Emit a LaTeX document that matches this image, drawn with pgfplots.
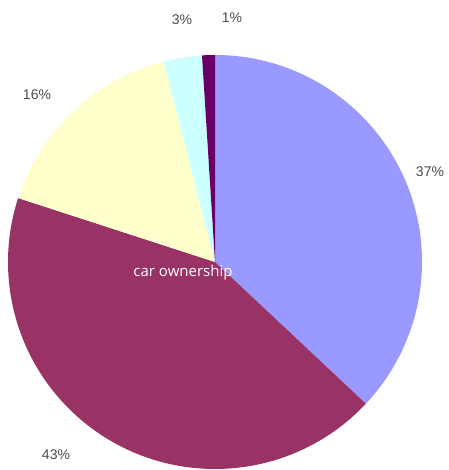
\documentclass[border=0pt]{standalone}
\usepackage{pgfplots}
\pgfplotsset{compat=1.18}
\usepackage{pgfplotstable}
\usepackage{fontspec}
\setmainfont{Liberation Sans}
\newfontfamily\labelfont{Open Sans}
\definecolor{sliceA}{HTML}{9999FF}
\definecolor{sliceB}{HTML}{993366}
\definecolor{sliceC}{HTML}{FFFFCC}
\definecolor{sliceD}{HTML}{CCFFFF}
\definecolor{sliceE}{HTML}{660066}
\definecolor{pctgray}{HTML}{4A4A4A}
\pgfplotstableread{
value color lx ly
37 sliceA 430 298
43 sliceB 56 15
16 sliceC 37 375
3 sliceD 182 450
1 sliceE 232 452
}\piedata
\begin{document}
\begin{tikzpicture}
\begin{axis}[x=1pt, y=1pt, xmin=0, xmax=448, ymin=0, ymax=470,
  hide axis, clip=false]
\pgfplotstablegetrowsof{\piedata}
\pgfmathtruncatemacro\N{\pgfplotsretval-1}
\def\cum{0}
\pgfplotsforeachungrouped \i in {0,...,\N}{%
  \pgfplotstablegetelem{\i}{value}\of\piedata \let\v\pgfplotsretval
  \pgfplotstablegetelem{\i}{color}\of\piedata \let\c\pgfplotsretval
  \pgfplotstablegetelem{\i}{lx}\of\piedata \let\lx\pgfplotsretval
  \pgfplotstablegetelem{\i}{ly}\of\piedata \let\ly\pgfplotsretval
  \pgfmathsetmacro\a{90-3.6*\cum}
  \pgfmathsetmacro\b{90-3.6*(\cum+\v)}
  \edef\temp{\noexpand\fill[\c] (axis cs:215,208) -- ++(\a:207pt) arc[start angle=\a, end angle=\b, radius=207pt] -- cycle;
    \noexpand\node[text=pctgray, font=\noexpand\fontsize{14}{16}\noexpand\selectfont] at (axis cs:\lx,\ly) {\v\noexpand\%};}
  \temp
  \pgfmathsetmacro\cum{\cum+\v}
}
\node[text=white, font=\labelfont\fontsize{15}{17}\selectfont] at (axis cs:183,197) {car ownership};
\end{axis}
\pgfresetboundingbox
\path[use as bounding box] (current axis.south west) rectangle (current axis.north east);
\end{tikzpicture}
\end{document}
